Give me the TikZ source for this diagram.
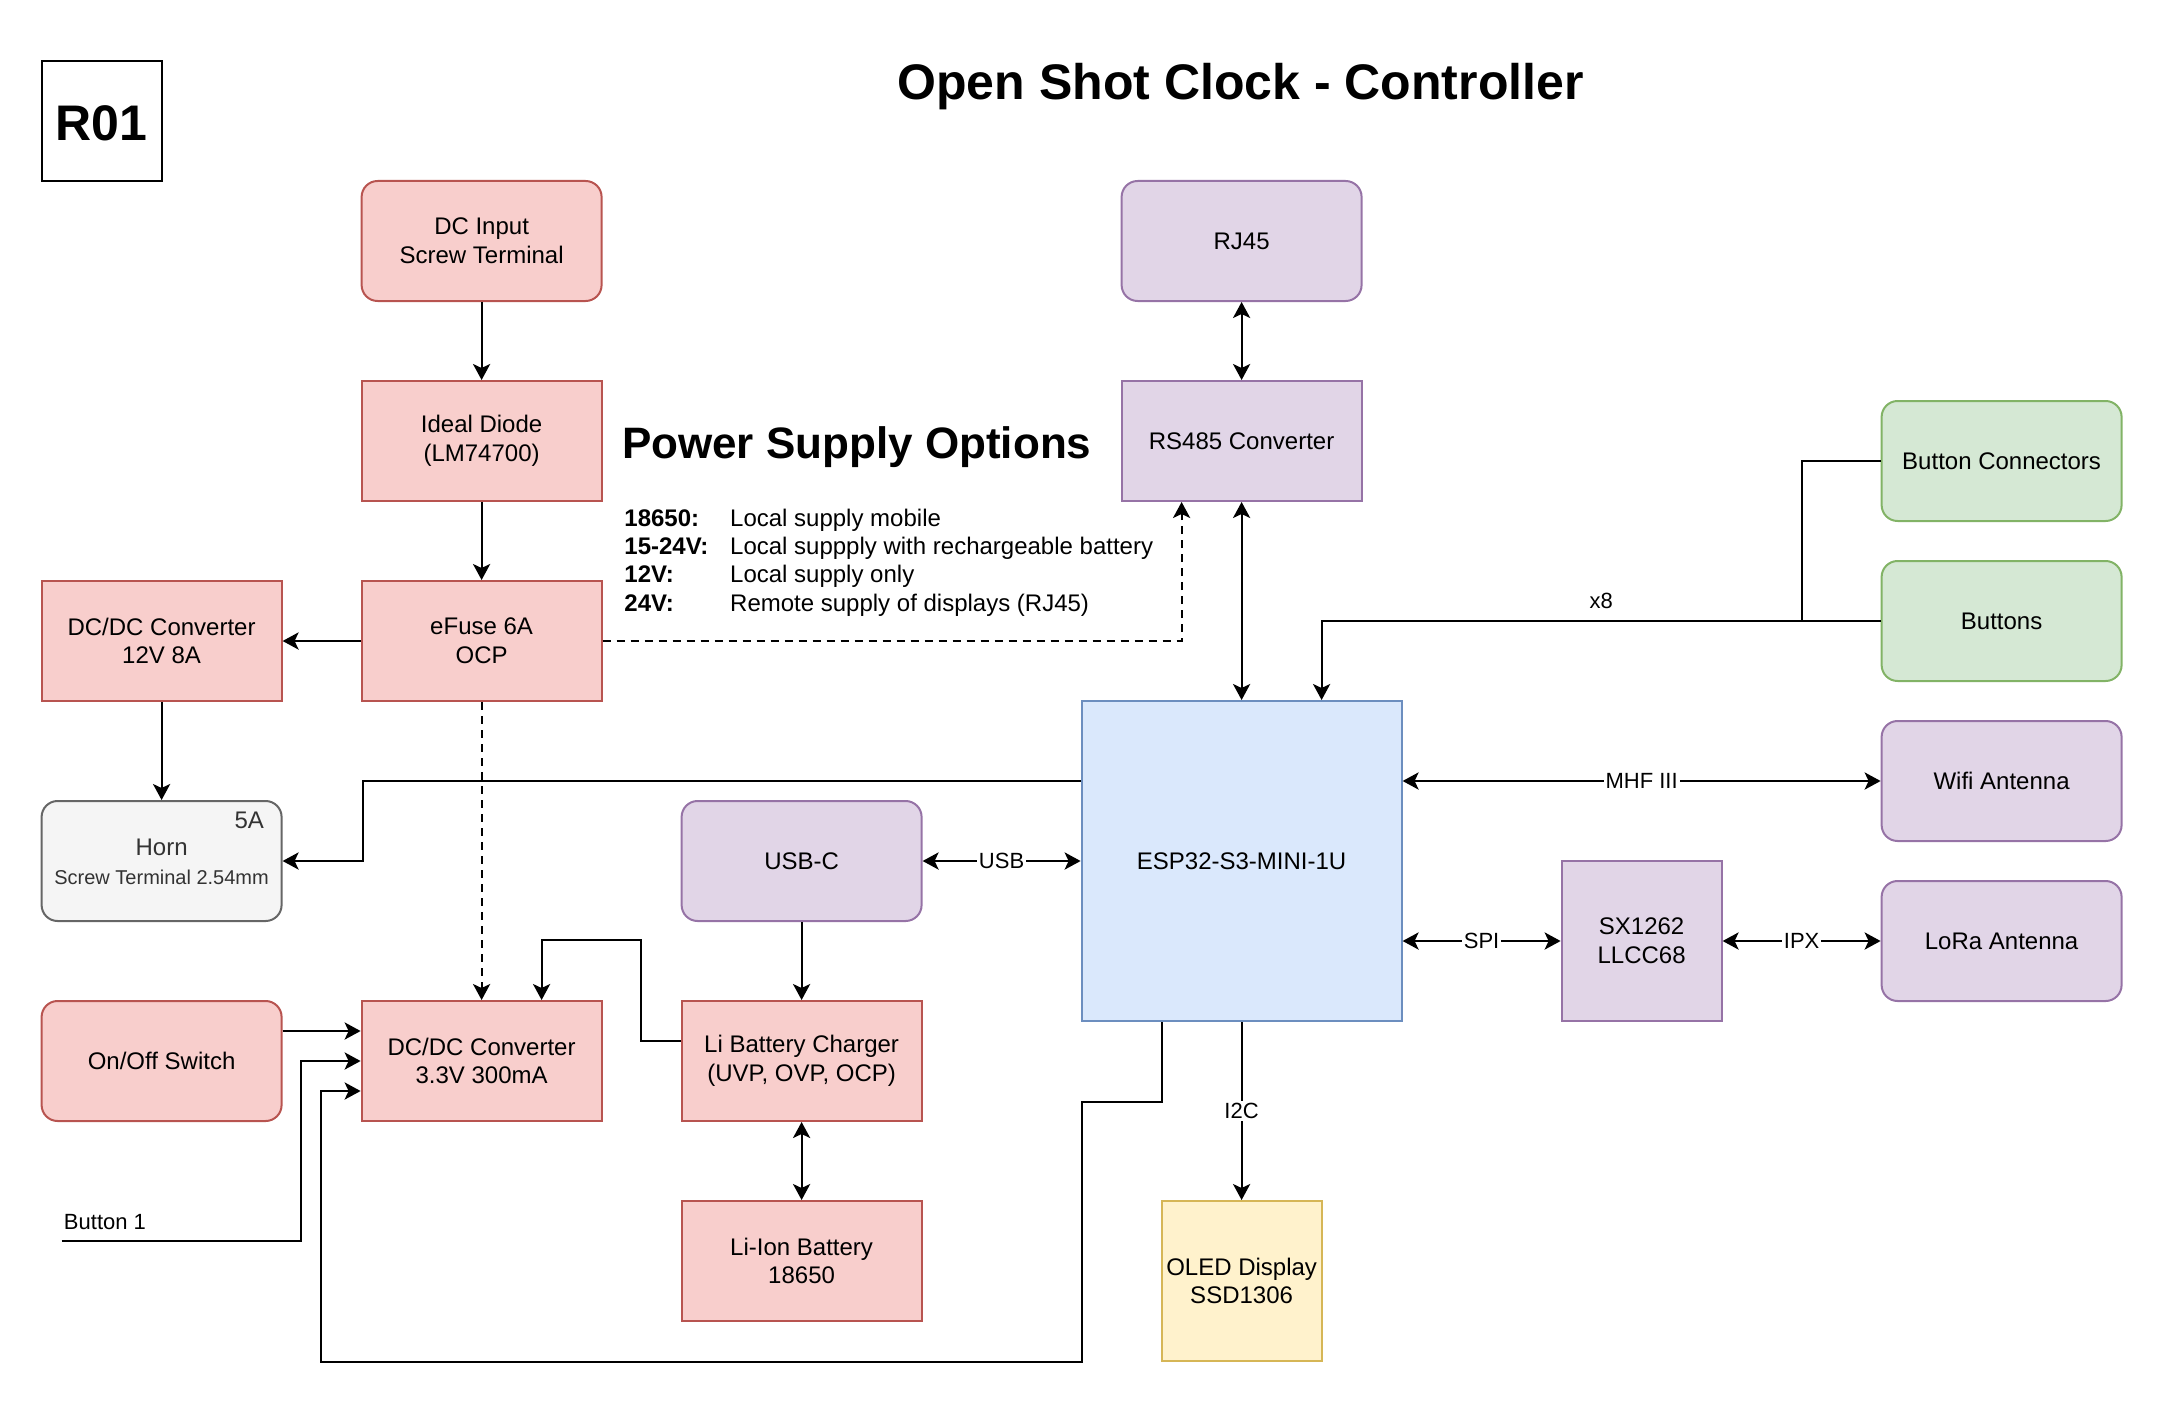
\documentclass[tikz,border=0pt]{standalone}
\usepackage{fontspec}
\setmainfont{Liberation Sans}
\usetikzlibrary{arrows.meta,calc}
\definecolor{redfill}{HTML}{F8CECC}
\definecolor{redline}{HTML}{B85450}
\definecolor{purfill}{HTML}{E1D5E7}
\definecolor{purline}{HTML}{9673A6}
\definecolor{grnfill}{HTML}{D5E8D4}
\definecolor{grnline}{HTML}{82B366}
\definecolor{blufill}{HTML}{DAE8FC}
\definecolor{bluline}{HTML}{6C8EBF}
\definecolor{yelfill}{HTML}{FFF2CC}
\definecolor{yelline}{HTML}{D6B656}
\definecolor{gryfill}{HTML}{F5F5F5}
\definecolor{gryline}{HTML}{666666}
\definecolor{grytext}{HTML}{333333}
\begin{document}
\begin{tikzpicture}[x=1pt,y=-1pt,
  >={Stealth[length=8pt,width=8.6pt,inset=2pt]},
  box/.style={draw, line width=1pt, minimum width=120pt, minimum height=60pt,
    inner sep=0pt, align=center, font=\fontsize{12}{14.4}\selectfont},
  rnd/.style={rounded corners=8pt},
  redbox/.style={box, fill=redfill, draw=redline},
  purbox/.style={box, fill=purfill, draw=purline},
  grnbox/.style={box, fill=grnfill, draw=grnline},
  blubox/.style={box, fill=blufill, draw=bluline},
  yelbox/.style={box, fill=yelfill, draw=yelline},
  grybox/.style={box, fill=gryfill, draw=gryline},
  wire/.style={line width=1pt},
  arr/.style={wire, ->},
  darr/.style={wire, <->},
  dashline/.style={dash pattern=on 4pt off 3pt},
  lab/.style={fill=white, inner sep=1pt, font=\fontsize{11}{13}\selectfont},
  small/.style={font=\fontsize{11}{13}\selectfont},
  txt/.style={font=\fontsize{12}{14.4}\selectfont, inner sep=0pt},
  txtb/.style={font=\bfseries\fontsize{12}{14.4}\selectfont, inner sep=0pt},
]
\useasboundingbox (-20.8,-30.5) rectangle (1060.2,678.5);

% header
\node[draw, line width=1pt, minimum width=60pt, minimum height=60pt, inner sep=0pt] (r01box) at (30,30) {};
\node[anchor=base, inner sep=0pt, font=\bfseries\fontsize{25}{30}\selectfont] (r01) at (30,39.8) {R01};
\node[anchor=base, inner sep=0pt, font=\bfseries\fontsize{25}{30}\selectfont] (title) at (599.5,19.5) {Open Shot Clock - Controller};

% power supply options
\node[anchor=base west, inner sep=0pt, font=\bfseries\fontsize{22}{26}\selectfont] (pso) at (290,198.5) {Power Supply Options};
\node[txtb, anchor=base west] (l1) at (291.2,232.5) {18650:};
\node[txtb, anchor=base west] (l2) at (291.2,246.7) {15-24V:};
\node[txtb, anchor=base west] (l3) at (291.2,260.9) {12V:};
\node[txtb, anchor=base west] (l4) at (291.2,275.1) {24V:};
\node[txt, anchor=base west] (d1) at (344.1,232.5) {Local supply mobile};
\node[txt, anchor=base west] (d2) at (344.1,246.7) {Local suppply with rechargeable battery};
\node[txt, anchor=base west] (d3) at (344.1,260.9) {Local supply only};
\node[txt, anchor=base west] (d4) at (344.1,275.1) {Remote supply of displays (RJ45)};

% blocks
\node[redbox, rnd] (dcin) at (220,90) {DC Input\\Screw Terminal};
\node[redbox] (diode) at (220,190) {Ideal Diode\\(LM74700)};
\node[redbox] (efuse) at (220,290) {eFuse 6A\\OCP};
\node[redbox] (dc12) at (60,290) {DC/DC Converter\\12V 8A};
\node[grybox, rnd] (horn) at (60,400) {};
\node[txt, text=grytext] (horntxt) at (60,393) {Horn};
\node[inner sep=0pt, text=grytext, font=\fontsize{10}{12}\selectfont] (hornsub) at (60,408) {Screw Terminal 2.54mm};
\node[txt, text=grytext, anchor=east] (hornamp) at (111.4,379.5) {5A};
\node[redbox, rnd] (onoff) at (60,500) {On/Off Switch};
\node[redbox] (dc33) at (220,500) {DC/DC Converter\\3.3V 300mA};
\node[purbox, rnd] (usbc) at (380,400) {USB-C};
\node[redbox] (charger) at (380,500) {Li Battery Charger\\(UVP, OVP, OCP)};
\node[redbox] (liion) at (380,600) {Li-Ion Battery\\18650};
\node[purbox, rnd] (rj45) at (600,90) {RJ45};
\node[purbox] (rs485) at (600,190) {RS485 Converter};
\node[blubox, minimum width=160pt, minimum height=160pt] (esp) at (600,400) {ESP32-S3-MINI-1U};
\node[grnbox, rnd] (bconn) at (980,200) {Button Connectors};
\node[grnbox, rnd] (buttons) at (980,280) {Buttons};
\node[purbox, rnd] (wifi) at (980,360) {Wifi Antenna};
\node[purbox, rnd] (lora) at (980,440) {LoRa Antenna};
\node[purbox, minimum width=80pt, minimum height=80pt] (sx) at (800,440) {SX1262\\LLCC68};
\node[yelbox, minimum width=80pt, minimum height=80pt] (oled) at (600,610) {OLED Display\\SSD1306};

% connectors
\draw[arr] (dcin) -- (diode);
\draw[arr] (diode) -- (efuse);
\draw[arr] (efuse) -- (dc12);
\draw[arr] (dc12) -- (horn);
\draw[arr, dashline] (efuse.east) -| ([xshift=-30pt]rs485.south);
\draw[arr, dashline] (efuse) -- (dc33);
\draw[darr] (rj45) -- (rs485);
\draw[darr] (rs485) -- (esp);
\draw[arr] (buttons.west) -| node[pos=0.25, yshift=10pt, small, inner sep=0pt] (x8) {x8} ([xshift=40pt]esp.north);
\coordinate (bj) at (880,280);
\draw[wire] (bconn.west) -| (bj);
\draw[arr] ([yshift=40pt]esp.west) -| ($(horn.east)+(40,0)$) -- (horn.east);
\draw[darr] (usbc) -- node[lab] (usblab) {USB} (esp);
\draw[arr] (usbc) -- (charger);
\draw[arr] ([yshift=10pt]charger.west) -- ++(-20,0) |- ($(dc33.north)+(30,-30)$) -- ([xshift=30pt]dc33.north);
\draw[darr] (charger) -- (liion);
\draw[arr] ([yshift=15pt]onoff.east) -- ([yshift=15pt]dc33.west);
\coordinate (b1) at (10,590);
\node[small, anchor=base west, inner sep=0pt] (b1lab) at (11,584) {Button 1};
\draw[arr] (b1) -| ($(dc33.west)+(-30,0)$) -- (dc33.west);
\draw[arr] ([xshift=-40pt]esp.south) -- ++(0,40) -- ++(-40,0) -- ++(0,130) -| ([xshift=-20pt,yshift=-15pt]dc33.west) -- ([yshift=-15pt]dc33.west);
\draw[arr] (esp) -- node[lab] (i2c) {I2C} (oled);
\draw[darr] ([yshift=40pt]esp.east) -- node[lab] (mhf) {MHF III} (wifi.west);
\draw[darr] ([yshift=-40pt]esp.east) -- node[lab] (spi) {SPI} (sx.west);
\draw[darr] (sx) -- node[lab] (ipx) {IPX} (lora);
\end{tikzpicture}
\end{document}
